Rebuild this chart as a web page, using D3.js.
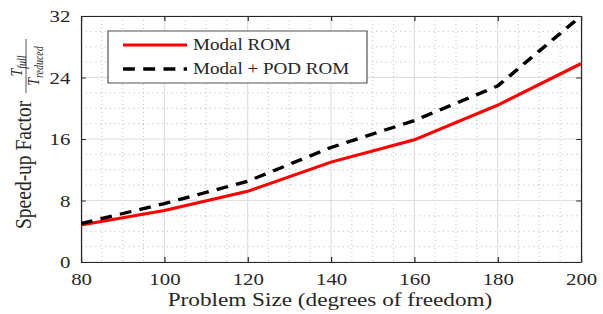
<!DOCTYPE html>
<html>
<head>
<meta charset="utf-8">
<script src="https://cdn.jsdelivr.net/npm/d3@7"></script>
<style>
  body { margin: 0; background: #fff; }
  svg text { font-family: "Liberation Serif", "DejaVu Serif", serif !important; fill: #262626; }
</style>
</head>
<body>
<div id="chart"></div>
<script>
// data
var sizes = [80, 100, 120, 140, 160, 180, 200];
var modalRom = [4.8, 6.7, 9.2, 13.0, 15.9, 20.4, 25.8];
var modalPodRom = [5.0, 7.6, 10.5, 14.9, 18.4, 22.9, 32.0];
var seriesNames = ["Modal ROM", "Modal + POD ROM"];
var xTicks = [80, 100, 120, 140, 160, 180, 200];
var yTicks = [0, 8, 16, 24, 32];
var xMinor = [85, 90, 95, 105, 110, 115, 125, 130, 135, 145, 150, 155, 165, 170, 175, 185, 190, 195];
var yMinor = [2, 4, 6, 10, 12, 14, 18, 20, 22, 26, 28, 30];

var serif = "'Liberation Serif', 'DejaVu Serif', serif";

// the original picture is stretched horizontally, so draw in a squeezed viewBox
var sx = 1.19,
    W = 603 / sx,
    H = 314;
var margin = {top: 16, right: W - 581 / sx, bottom: 52, left: 81 / sx},
    width = W - margin.left - margin.right,
    height = H - margin.top - margin.bottom;

var root = d3.select("#chart")
  .append("svg")
    .attr("width", 603)
    .attr("height", 314)
    .attr("viewBox", "0 0 " + W + " " + H)
    .attr("preserveAspectRatio", "none")
    .attr("font-family", serif);

var svg = root.append("g")
    .attr("transform", "translate(" + margin.left + "," + margin.top + ")");

var x = d3.scaleLinear().domain([80, 200]).range([0, width]);
var y = d3.scaleLinear().domain([0, 32]).range([height, 0]);

// minor grid (dotted)
svg.append("g").selectAll("line").data(xMinor).enter().append("line")
    .attr("x1", d => x(d)).attr("x2", d => x(d))
    .attr("y1", 0).attr("y2", height)
    .attr("stroke", "#b8b8b8").attr("stroke-width", 0.8)
    .attr("stroke-dasharray", "1,3");
svg.append("g").selectAll("line").data(yMinor).enter().append("line")
    .attr("x1", 0).attr("x2", width)
    .attr("y1", d => y(d)).attr("y2", d => y(d))
    .attr("stroke", "#b8b8b8").attr("stroke-width", 0.8)
    .attr("stroke-dasharray", "1,3");

// major grid
svg.append("g").selectAll("line").data(xTicks).enter().append("line")
    .attr("x1", d => x(d)).attr("x2", d => x(d))
    .attr("y1", 0).attr("y2", height)
    .attr("stroke", "#dedede").attr("stroke-width", 1);
svg.append("g").selectAll("line").data(yTicks).enter().append("line")
    .attr("x1", 0).attr("x2", width)
    .attr("y1", d => y(d)).attr("y2", d => y(d))
    .attr("stroke", "#dedede").attr("stroke-width", 1);

// axes, ticks pointing inward on all four sides
function styleAxis(g) {
  g.attr("font-family", serif);
  g.select(".domain").attr("stroke", "#262626");
  g.selectAll(".tick line").attr("stroke", "#262626");
  g.selectAll("text").style("font-size", "17.5px").attr("fill", "#262626");
}
svg.append("g")
    .attr("transform", "translate(0," + height + ")")
    .call(d3.axisBottom(x).tickValues(xTicks).tickSizeInner(-5).tickSizeOuter(0).tickPadding(11))
    .call(styleAxis);
svg.append("g")
    .call(d3.axisLeft(y).tickValues(yTicks).tickSizeInner(-4).tickSizeOuter(0).tickPadding(9))
    .call(styleAxis);
svg.append("g")
    .call(d3.axisTop(x).tickValues(xTicks).tickSizeInner(-5).tickSizeOuter(0).tickFormat(""))
    .call(styleAxis);
svg.append("g")
    .attr("transform", "translate(" + width + ",0)")
    .call(d3.axisRight(y).tickValues(yTicks).tickSizeInner(-4).tickSizeOuter(0).tickFormat(""))
    .call(styleAxis);

// lines
svg.append("clipPath").attr("id", "clip")
  .append("rect").attr("width", width).attr("height", height);

var line = d3.line()
    .x((d, i) => x(sizes[i]))
    .y(d => y(d));

svg.append("path")
    .datum(modalRom)
    .attr("clip-path", "url(#clip)")
    .attr("fill", "none")
    .attr("stroke", "#ff0000")
    .attr("stroke-width", 3)
    .attr("d", line);

svg.append("path")
    .datum(modalPodRom)
    .attr("clip-path", "url(#clip)")
    .attr("fill", "none")
    .attr("stroke", "#000")
    .attr("stroke-width", 3.3)
    .attr("stroke-dasharray", "10,7")
    .attr("d", line);

// legend
var legend = root.append("g");
legend.append("rect")
    .attr("x", 108 / sx).attr("y", 31)
    .attr("width", (367 - 108) / sx).attr("height", 52)
    .attr("fill", "#fff").attr("stroke", "#262626").attr("stroke-width", 0.8);
var legendStyles = [
  {stroke: "#ff0000", dash: null, w: 3},
  {stroke: "#000", dash: "10,7", w: 3.3}
];
seriesNames.forEach(function (name, i) {
  var ly = 45 + i * 24;
  legend.append("line")
      .attr("x1", 123 / sx).attr("x2", 187 / sx)
      .attr("y1", ly).attr("y2", ly)
      .attr("stroke", legendStyles[i].stroke)
      .attr("stroke-width", legendStyles[i].w)
      .attr("stroke-dasharray", legendStyles[i].dash);
  legend.append("text")
      .attr("x", 193 / sx).attr("y", ly + 5.5)
      .style("font-size", "16px")
      .text(name);
});

// x label
root.append("text")
    .attr("x", 330 / sx).attr("y", 306)
    .attr("text-anchor", "middle")
    .style("font-size", "19.5px")
    .text("Problem Size (degrees of freedom)");

// y label with fraction T_full / T_reduced
var yl = root.append("g")
    .attr("transform", "translate(" + (31 / sx) + ",229) rotate(-90)");
yl.append("text")
    .attr("x", 0).attr("y", 0)
    .style("font-size", "19.5px")
    .text("Speed-up Factor");
yl.append("line")
    .attr("x1", 136).attr("x2", 190)
    .attr("y1", -5 / sx).attr("y2", -5 / sx)
    .attr("stroke", "#262626").attr("stroke-width", 0.7);
var num = yl.append("text")
    .attr("x", 163).attr("y", -9 / sx)
    .attr("text-anchor", "middle")
    .style("font-size", "14px").style("font-style", "italic");
num.append("tspan").text("T");
num.append("tspan").attr("dy", 3).style("font-size", "10px").text("full");
var den = yl.append("text")
    .attr("x", 163).attr("y", 8 / sx)
    .attr("text-anchor", "middle")
    .style("font-size", "14px").style("font-style", "italic");
den.append("tspan").text("T");
den.append("tspan").attr("dy", 3).style("font-size", "10px").text("reduced");
</script>
</body>
</html>
